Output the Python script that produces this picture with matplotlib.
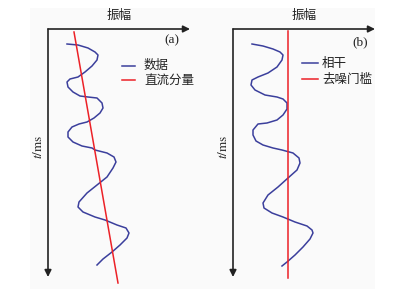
import matplotlib
matplotlib.use("Agg")
import matplotlib.pyplot as plt
from matplotlib.patches import Rectangle

plt.rcParams['font.family'] = ['Noto Sans CJK SC', 'DejaVu Sans']
plt.rcParams['mathtext.fontset'] = 'stix'

# panel (a): data trace (amplitude, time) and DC component
a_amp = [19, 30, 40, 47, 50, 49, 44, 37, 30, 22, 19, 20, 25, 32, 40, 49, 54, 55, 52, 46,
         39, 31, 24, 20, 20, 25, 34, 44, 47, 59, 66, 68, 65, 59, 49, 39, 31, 30, 35, 47,
         57, 69, 78, 81, 79, 72, 64, 55, 49]
a_t = [15, 16, 19, 23, 26, 31, 37, 43, 48, 50, 53, 58, 63, 67, 68, 69, 74, 79, 84, 89,
       93, 95, 98, 103, 108, 113, 117, 119, 121, 124, 128, 133, 139, 148, 156, 164, 173, 178, 183, 188,
       191, 196, 199, 204, 209, 216, 223, 230, 236]
dc_amp = [26, 70]
dc_t = [3, 254]

# panel (b): coherence trace and denoise threshold
b_amp = [19, 30, 40, 47, 50, 49, 44, 35, 25, 19, 18, 22, 32, 44, 50, 54, 54, 50, 44, 34,
         25, 20, 20, 23, 30, 40, 49, 60, 66, 67, 64, 55, 45, 35, 30, 31, 39, 50, 62, 74,
         79, 80, 77, 70, 62, 54, 49]
b_t = [15, 17, 20, 23, 26, 31, 38, 44, 48, 51, 56, 61, 66, 68, 70, 74, 80, 86, 91, 94,
       95, 101, 106, 112, 116, 119, 121, 124, 129, 134, 141, 149, 158, 166, 174, 179, 184, 188, 193, 197,
       201, 204, 210, 218, 226, 233, 237]
thr_amp = [54.5, 54.5]
thr_t = [2, 249]

W, H = 416, 289
fig = plt.figure(figsize=(W / 100, H / 100), dpi=100)
fig.patches.append(Rectangle((30 / W, 0), 345 / W, 281 / H, transform=fig.transFigure,
                             facecolor='#fafafa', edgecolor='none', zorder=-10))

blue = '#3b3f9c'
red = '#ec2127'
axc = '#222222'


def panel(x0, amp, t, ref_amp, ref_t):
    # axes placed so one data unit = one pixel, origin at axis corner (x0, 29)
    ax = fig.add_axes([(x0 - 18) / W, 0, 180 / W, 1])
    ax.set_xlim(-18, 162)
    ax.set_ylim(260, -29)
    ax.axis('off')
    ax.patch.set_visible(False)
    ax.plot(amp, t, color=blue, lw=1.1)
    ax.plot(ref_amp, ref_t, color=red, lw=1.1)
    # axis arrows
    ax.annotate('', xy=(142, 0), xytext=(0, 0),
                arrowprops=dict(arrowstyle='-|>', color=axc, lw=1.2,
                                mutation_scale=10, shrinkA=0, shrinkB=0))
    ax.annotate('', xy=(0, 248), xytext=(0, 0),
                arrowprops=dict(arrowstyle='-|>', color=axc, lw=1.2,
                                mutation_scale=10, shrinkA=0, shrinkB=0))
    ax.text(71, -14, '振幅', ha='center', va='center', fontsize=9, color=axc)
    ax.text(-10, 118, r'$t$/ms', ha='center', va='center', rotation=90, fontsize=9.5,
            family='STIXGeneral', color=axc)
    return ax


ax_a = panel(48, a_amp, a_t, dc_amp, dc_t)
ax_a.text(124, 11, '(a)', ha='center', va='center', fontsize=9.5,
          family='Liberation Serif', color=axc)
ax_a.plot([74, 87], [36.5, 36.5], color=blue, lw=1.1)
ax_a.plot([74, 87], [51, 51], color=red, lw=1.1)
ax_a.text(96, 36.5, '数据', va='center', fontsize=9, color=axc)
ax_a.text(96, 51, '直流分量', va='center', fontsize=9, color=axc)

ax_b = panel(233, b_amp, b_t, thr_amp, thr_t)
ax_b.text(127, 13, '(b)', ha='center', va='center', fontsize=9.5,
          family='Liberation Serif', color=axc)
ax_b.plot([69, 85], [34, 34], color=blue, lw=1.1)
ax_b.plot([69, 85], [50, 50], color=red, lw=1.1)
ax_b.text(89, 34, '相干', va='center', fontsize=9, color=axc)
ax_b.text(89, 50, '去噪门槛', va='center', fontsize=9, color=axc)

fig.savefig('out.png', dpi=100, facecolor='white')
